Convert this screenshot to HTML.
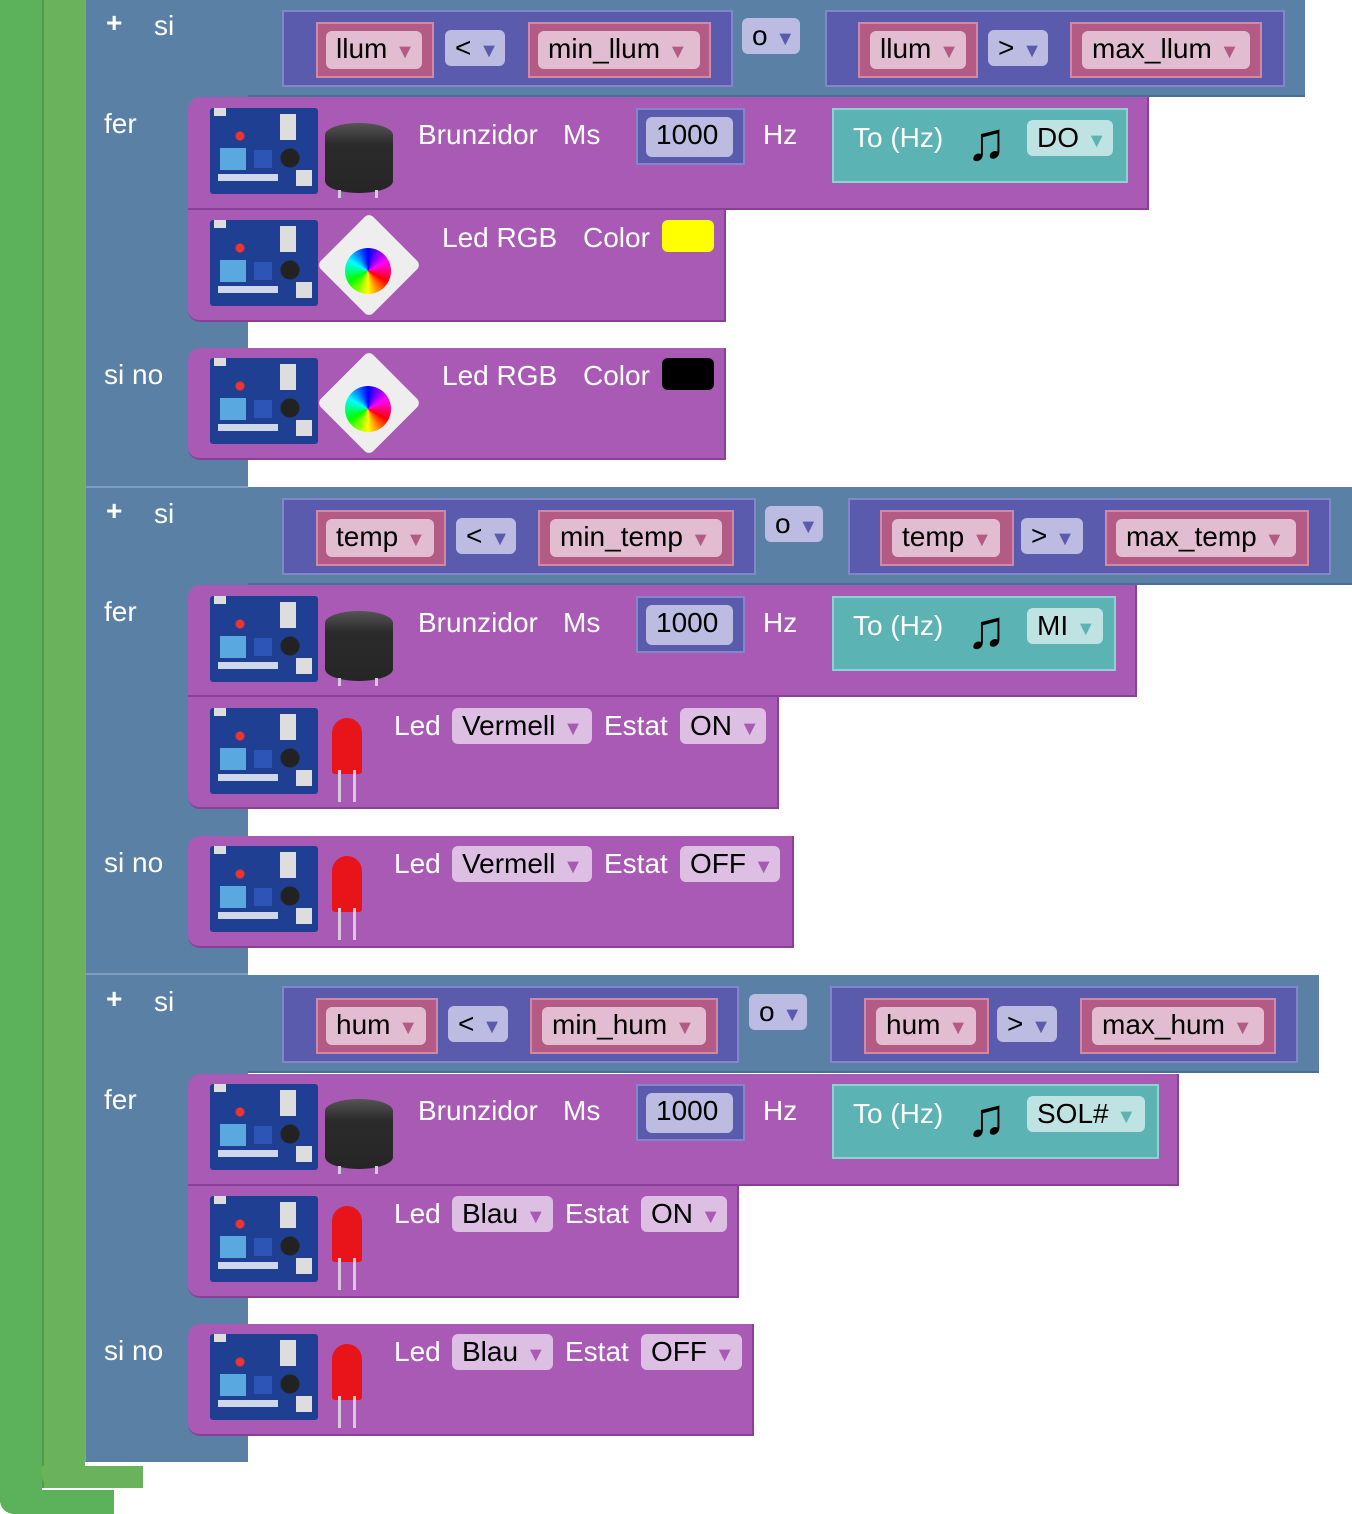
<!DOCTYPE html>
<html><head><meta charset="utf-8"><style>
body{margin:0;width:1352px;height:1514px;background:#fff;position:relative;overflow:hidden;font-family:"Liberation Sans",Arial,sans-serif;}
div{position:absolute;box-sizing:border-box;}
.g1{background:#5bb25b;}
.g2{background:#6ab35c;}
.bl{background:#5b80a5;}
.pu{background:#a85ab5;border-bottom:2px solid #8a3f98;border-right:2px solid #8a3f98;}
.in{background:#5b5bae;border:2px solid #8585cc;}
.pk{background:#b35a85;border:2px solid #d08aa9;}
.te{background:#5bb3b3;border:2px solid #8fd0d0;}
.t{color:#fff;font-size:28px;line-height:34px;white-space:nowrap;}
.f{border-radius:6px;font-size:28px;line-height:36px;color:#000;white-space:nowrap;padding-left:10px;}
.fp{background:#e2bdd1;}.fp i{color:#b35a85}
.fi{background:#bcbce2;}.fi i{color:#5b5bae}
.ft{background:#bfe3e3;}.ft i{color:#5bb3b3}
.fv{background:#ddbfe3;}.fv i{color:#a85ab5}
i{font-style:normal;font-size:20px;}
.ard{width:108px;height:86px;border-radius:3px;
background:
radial-gradient(circle at 30px 28px,#e33 4px,transparent 5px),
radial-gradient(circle at 80px 50px,#222 9px,transparent 10px),
linear-gradient(#5aa8e0,#5aa8e0) 10px 40px/26px 22px no-repeat,
linear-gradient(#2d55b8,#2d55b8) 44px 42px/18px 18px no-repeat,
linear-gradient(#ddd,#ddd) 70px 6px/16px 26px no-repeat,
linear-gradient(#ddd,#ddd) 86px 62px/16px 16px no-repeat,
linear-gradient(#cfd8ea,#cfd8ea) 8px 66px/60px 7px no-repeat,
linear-gradient(#ddd,#ddd) 4px 0/12px 8px no-repeat,
#1f3f92;}
.buz{width:68px;height:70px;background:linear-gradient(#555,#2b2b2b 30%,#262626);border-radius:34px/12px;}
.led{width:30px;height:56px;background:#e8141a;border-radius:15px 15px 3px 3px;}
.legs{width:18px;height:32px;border-left:3px solid #d8c8dc;border-right:3px solid #d8c8dc;}
.rgb{width:74px;height:74px;background:#eee;transform:rotate(45deg);border-radius:6px;}
.n{color:#000;font-size:54px;line-height:56px;font-weight:bold;}
</style></head><body>

<div class="g1" style="left:0;top:0;width:42px;height:1514px;border-radius:0 0 0 14px"></div>
<div class="g1" style="left:0;top:1490px;width:114px;height:24px;border-radius:0 0 0 14px"></div>
<div class="g2" style="left:42px;top:0;width:43px;height:1488px;border-left:2px solid #4f9a4f"></div>
<div class="g2" style="left:42px;top:1466px;width:101px;height:22px;border-radius:0 0 0 12px"></div>

<div class="bl" style="left:85px;top:0;width:163px;height:1462px;border-left:1px solid #7d9cc0"></div>
<div style="left:85px;top:486px;width:163px;height:2px;background:#7d9cc0"></div>
<div style="left:85px;top:973px;width:163px;height:2px;background:#7d9cc0"></div>
<div class="bl" style="left:248px;top:0;width:1057px;height:97px;border-bottom:2px solid #4b6f94"></div>
<div class="bl" style="left:248px;top:487px;width:1104px;height:98px;border-bottom:2px solid #4b6f94"></div>
<div class="bl" style="left:248px;top:975px;width:1071px;height:98px;border-bottom:2px solid #4b6f94"></div>

<div class="t" style="left:106px;top:6px;font-weight:bold">+</div><div class="t" style="left:154px;top:9px">si</div>
<div class="t" style="left:104px;top:107px">fer</div><div class="t" style="left:104px;top:358px">si no</div>
<div class="t" style="left:106px;top:494px;font-weight:bold">+</div><div class="t" style="left:154px;top:497px">si</div>
<div class="t" style="left:104px;top:595px">fer</div><div class="t" style="left:104px;top:846px">si no</div>
<div class="t" style="left:106px;top:982px;font-weight:bold">+</div><div class="t" style="left:154px;top:985px">si</div>
<div class="t" style="left:104px;top:1083px">fer</div><div class="t" style="left:104px;top:1334px">si no</div>

<div class="in" style="left:282px;top:10px;width:451px;height:77px"></div>
<div class="pk" style="left:316px;top:22px;width:118px;height:56px"></div><div class="f fp" style="left:326px;top:31px;width:96px;height:38px">llum <i>▼</i></div>
<div class="f fi" style="left:445px;top:30px;width:60px;height:36px">&lt; <i>▼</i></div>
<div class="pk" style="left:528px;top:22px;width:183px;height:56px"></div><div class="f fp" style="left:538px;top:31px;width:162px;height:38px">min_llum <i>▼</i></div>
<div class="f fi" style="left:742px;top:18px;width:58px;height:36px">o <i>▼</i></div>
<div class="in" style="left:825px;top:10px;width:460px;height:77px"></div>
<div class="pk" style="left:858px;top:22px;width:120px;height:56px"></div><div class="f fp" style="left:870px;top:31px;width:96px;height:38px">llum <i>▼</i></div>
<div class="f fi" style="left:988px;top:30px;width:60px;height:36px">&gt; <i>▼</i></div>
<div class="pk" style="left:1070px;top:22px;width:192px;height:56px"></div><div class="f fp" style="left:1082px;top:31px;width:168px;height:38px">max_llum <i>▼</i></div>

<div class="in" style="left:282px;top:498px;width:474px;height:77px"></div>
<div class="pk" style="left:316px;top:510px;width:130px;height:56px"></div><div class="f fp" style="left:326px;top:519px;width:108px;height:38px">temp <i>▼</i></div>
<div class="f fi" style="left:456px;top:518px;width:60px;height:36px">&lt; <i>▼</i></div>
<div class="pk" style="left:538px;top:510px;width:196px;height:56px"></div><div class="f fp" style="left:550px;top:519px;width:172px;height:38px">min_temp <i>▼</i></div>
<div class="f fi" style="left:765px;top:506px;width:58px;height:36px">o <i>▼</i></div>
<div class="in" style="left:848px;top:498px;width:483px;height:77px"></div>
<div class="pk" style="left:880px;top:510px;width:134px;height:56px"></div><div class="f fp" style="left:892px;top:519px;width:108px;height:38px">temp <i>▼</i></div>
<div class="f fi" style="left:1021px;top:518px;width:62px;height:36px">&gt; <i>▼</i></div>
<div class="pk" style="left:1105px;top:510px;width:204px;height:56px"></div><div class="f fp" style="left:1116px;top:519px;width:180px;height:38px">max_temp <i>▼</i></div>

<div class="in" style="left:282px;top:986px;width:457px;height:77px"></div>
<div class="pk" style="left:316px;top:998px;width:122px;height:56px"></div><div class="f fp" style="left:326px;top:1007px;width:100px;height:38px">hum <i>▼</i></div>
<div class="f fi" style="left:448px;top:1006px;width:60px;height:36px">&lt; <i>▼</i></div>
<div class="pk" style="left:530px;top:998px;width:188px;height:56px"></div><div class="f fp" style="left:542px;top:1007px;width:164px;height:38px">min_hum <i>▼</i></div>
<div class="f fi" style="left:749px;top:994px;width:58px;height:36px">o <i>▼</i></div>
<div class="in" style="left:830px;top:986px;width:468px;height:77px"></div>
<div class="pk" style="left:864px;top:998px;width:125px;height:56px"></div><div class="f fp" style="left:876px;top:1007px;width:100px;height:38px">hum <i>▼</i></div>
<div class="f fi" style="left:997px;top:1006px;width:60px;height:36px">&gt; <i>▼</i></div>
<div class="pk" style="left:1080px;top:998px;width:196px;height:56px"></div><div class="f fp" style="left:1092px;top:1007px;width:172px;height:38px">max_hum <i>▼</i></div>

<div class="pu" style="left:188px;top:97px;width:961px;height:113px;border-radius:12px 0 0 0"></div>
<div class="ard" style="left:210px;top:108px"></div><div class="buz" style="left:325px;top:123px"></div><div class="legs" style="left:338px;top:190px;height:8px;width:40px"></div>
<div class="t" style="left:418px;top:118px">Brunzidor</div><div class="t" style="left:563px;top:118px">Ms</div>
<div class="in" style="left:636px;top:108px;width:109px;height:57px"></div><div class="f fi" style="left:646px;top:117px;width:87px;height:40px">1000</div>
<div class="t" style="left:763px;top:118px">Hz</div>
<div class="te" style="left:832px;top:108px;width:296px;height:75px"></div>
<div class="t" style="left:853px;top:121px">To (Hz)</div><div class="n" style="left:966px;top:114px">♫</div>
<div class="f ft" style="left:1027px;top:120px;width:86px;height:36px">DO <i>▼</i></div>

<div class="pu" style="left:188px;top:210px;width:538px;height:112px;border-radius:0 0 0 12px"></div>
<div class="ard" style="left:210px;top:220px"></div><div class="rgb" style="left:332px;top:228px"></div>
<div style="left:345px;top:248px;width:46px;height:46px;border-radius:50%;background:conic-gradient(#00f,#f0f,#f00,#ff0,#0f0,#0ff,#00f)"></div>
<div class="t" style="left:442px;top:221px">Led RGB</div><div class="t" style="left:583px;top:221px">Color</div>
<div style="left:662px;top:220px;width:52px;height:32px;background:#ff0;border-radius:6px"></div>

<div class="pu" style="left:188px;top:348px;width:538px;height:112px;border-radius:12px 0 0 12px"></div>
<div class="ard" style="left:210px;top:358px"></div><div class="rgb" style="left:332px;top:366px"></div>
<div style="left:345px;top:386px;width:46px;height:46px;border-radius:50%;background:conic-gradient(#00f,#f0f,#f00,#ff0,#0f0,#0ff,#00f)"></div>
<div class="t" style="left:442px;top:359px">Led RGB</div><div class="t" style="left:583px;top:359px">Color</div>
<div style="left:662px;top:358px;width:52px;height:32px;background:#000;border-radius:6px"></div>

<div class="pu" style="left:188px;top:585px;width:949px;height:112px;border-radius:12px 0 0 0"></div>
<div class="ard" style="left:210px;top:596px"></div><div class="buz" style="left:325px;top:611px"></div><div class="legs" style="left:338px;top:678px;height:8px;width:40px"></div>
<div class="t" style="left:418px;top:606px">Brunzidor</div><div class="t" style="left:563px;top:606px">Ms</div>
<div class="in" style="left:636px;top:596px;width:109px;height:57px"></div><div class="f fi" style="left:646px;top:605px;width:87px;height:40px">1000</div>
<div class="t" style="left:763px;top:606px">Hz</div>
<div class="te" style="left:832px;top:596px;width:284px;height:75px"></div>
<div class="t" style="left:853px;top:609px">To (Hz)</div><div class="n" style="left:966px;top:602px">♫</div>
<div class="f ft" style="left:1027px;top:608px;width:76px;height:36px">MI <i>▼</i></div>

<div class="pu" style="left:188px;top:697px;width:591px;height:112px;border-radius:0 0 0 12px"></div>
<div class="ard" style="left:210px;top:708px"></div><div class="led" style="left:332px;top:718px"></div><div class="legs" style="left:338px;top:770px"></div>
<div class="t" style="left:394px;top:709px">Led</div><div class="f fv" style="left:452px;top:708px;width:140px;height:36px">Vermell <i>▼</i></div>
<div class="t" style="left:604px;top:709px">Estat</div><div class="f fv" style="left:680px;top:708px;width:86px;height:36px">ON <i>▼</i></div>

<div class="pu" style="left:188px;top:836px;width:606px;height:112px;border-radius:12px 0 0 12px"></div>
<div class="ard" style="left:210px;top:846px"></div><div class="led" style="left:332px;top:856px"></div><div class="legs" style="left:338px;top:908px"></div>
<div class="t" style="left:394px;top:847px">Led</div><div class="f fv" style="left:452px;top:846px;width:140px;height:36px">Vermell <i>▼</i></div>
<div class="t" style="left:604px;top:847px">Estat</div><div class="f fv" style="left:680px;top:846px;width:100px;height:36px">OFF <i>▼</i></div>

<div class="pu" style="left:188px;top:1074px;width:991px;height:112px;border-radius:12px 0 0 0"></div>
<div class="ard" style="left:210px;top:1084px"></div><div class="buz" style="left:325px;top:1099px"></div><div class="legs" style="left:338px;top:1166px;height:8px;width:40px"></div>
<div class="t" style="left:418px;top:1094px">Brunzidor</div><div class="t" style="left:563px;top:1094px">Ms</div>
<div class="in" style="left:636px;top:1084px;width:109px;height:57px"></div><div class="f fi" style="left:646px;top:1093px;width:87px;height:40px">1000</div>
<div class="t" style="left:763px;top:1094px">Hz</div>
<div class="te" style="left:832px;top:1084px;width:327px;height:75px"></div>
<div class="t" style="left:853px;top:1097px">To (Hz)</div><div class="n" style="left:966px;top:1090px">♫</div>
<div class="f ft" style="left:1027px;top:1096px;width:118px;height:36px">SOL# <i>▼</i></div>

<div class="pu" style="left:188px;top:1186px;width:551px;height:112px;border-radius:0 0 0 12px"></div>
<div class="ard" style="left:210px;top:1196px"></div><div class="led" style="left:332px;top:1206px"></div><div class="legs" style="left:338px;top:1258px"></div>
<div class="t" style="left:394px;top:1197px">Led</div><div class="f fv" style="left:452px;top:1196px;width:101px;height:36px">Blau <i>▼</i></div>
<div class="t" style="left:565px;top:1197px">Estat</div><div class="f fv" style="left:641px;top:1196px;width:86px;height:36px">ON <i>▼</i></div>

<div class="pu" style="left:188px;top:1324px;width:566px;height:112px;border-radius:12px 0 0 12px"></div>
<div class="ard" style="left:210px;top:1334px"></div><div class="led" style="left:332px;top:1344px"></div><div class="legs" style="left:338px;top:1396px"></div>
<div class="t" style="left:394px;top:1335px">Led</div><div class="f fv" style="left:452px;top:1334px;width:101px;height:36px">Blau <i>▼</i></div>
<div class="t" style="left:565px;top:1335px">Estat</div><div class="f fv" style="left:641px;top:1334px;width:101px;height:36px">OFF <i>▼</i></div>

</body></html>
